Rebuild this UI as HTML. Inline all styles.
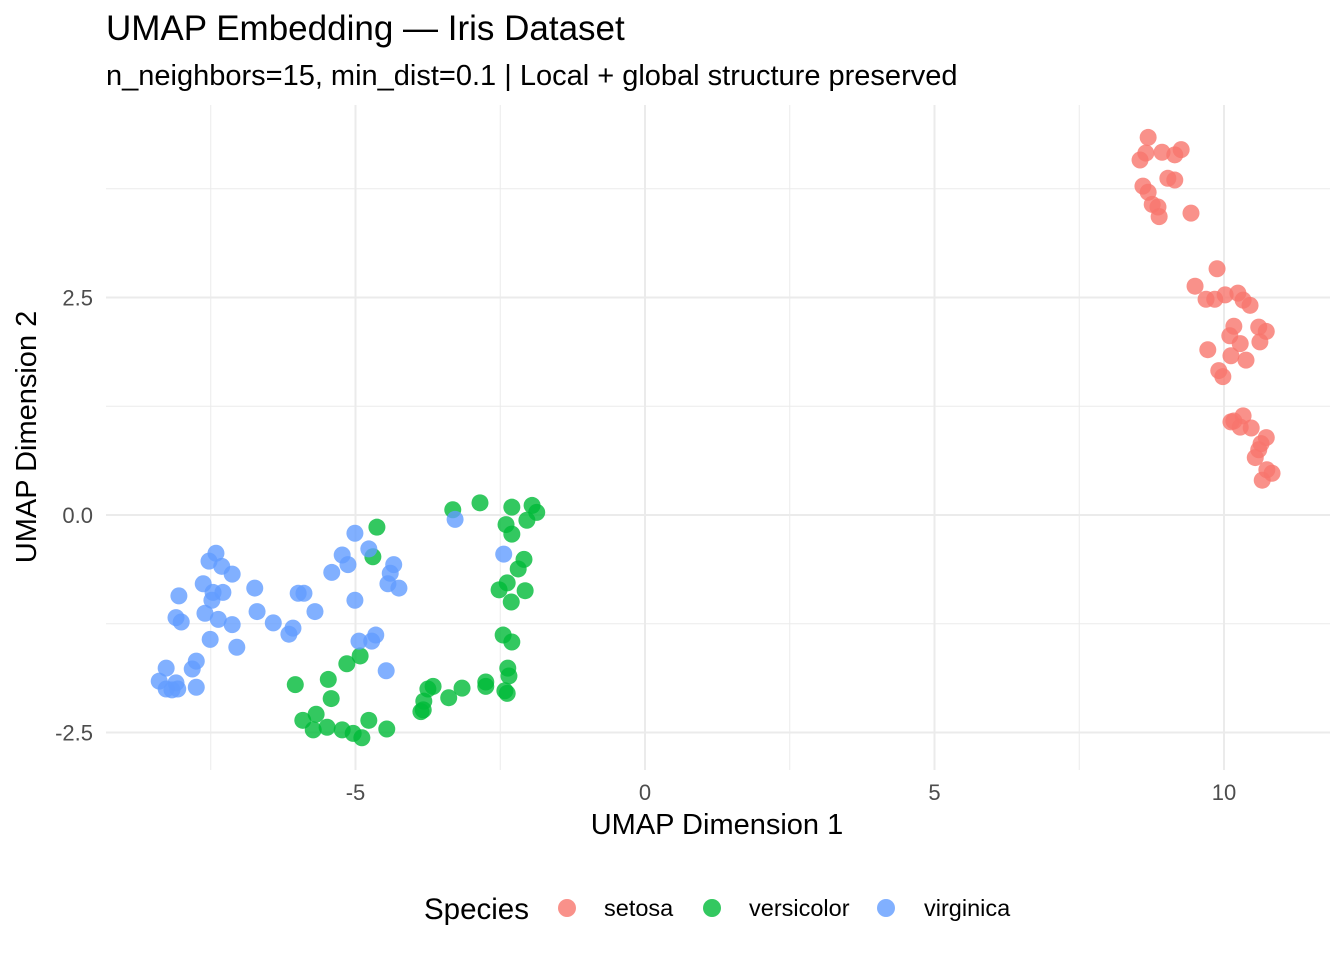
<!DOCTYPE html>
<html><head><meta charset="utf-8">
<style>
body{margin:0;background:#fff;}
svg{display:block;font-family:"Liberation Sans",Arial,sans-serif;}
</style></head>
<body>
<svg id="chart" width="1344" height="960" viewBox="0 0 1344 960" xmlns="http://www.w3.org/2000/svg">
<text x="106" y="40" font-size="35" fill="#000">UMAP Embedding — Iris Dataset</text>
<text x="106" y="85" font-size="29" fill="#000">n_neighbors=15, min_dist=0.1 | Local + global structure preserved</text>
<g id="grid"></g>
<g id="points"></g>
<g id="axes"></g>
<text x="717" y="834" font-size="29" text-anchor="middle" fill="#000">UMAP Dimension 1</text>
<text transform="translate(36,437) rotate(-90)" font-size="29" text-anchor="middle" fill="#000">UMAP Dimension 2</text>
<g>
<text x="424" y="919" font-size="29.5" fill="#000">Species</text>
<circle cx="567" cy="908" r="9" fill="#F8766D" fill-opacity="0.8"/>
<text x="604" y="916" font-size="23.5">setosa</text>
<circle cx="712" cy="908" r="9" fill="#00BA38" fill-opacity="0.8"/>
<text x="749" y="916" font-size="23.5">versicolor</text>
<circle cx="886" cy="908" r="9" fill="#619CFF" fill-opacity="0.8"/>
<text x="924" y="916" font-size="23.5">virginica</text>
</g>
</svg>
<script>
const setosaPx=[[1148,137],[1140,160],[1146,153],[1162,152],[1175,155],[1181,150],[1143,186],[1148,192],[1168,178],[1175,180],[1152,204],[1158,207],[1159,217],[1191,213],[1217,269],[1195,286],[1206,299],[1215,299],[1225,295],[1238,293],[1243,300],[1250,305],[1259,327],[1266,331],[1234,326],[1230,336],[1240,344],[1260,342],[1208,350],[1231,356],[1246,360],[1219,371],[1223,377],[1243,416],[1234,421],[1231,422],[1240,427],[1251,428],[1266,438],[1261,444],[1259,450],[1255,458],[1267,470],[1272,473],[1262,480]];
const versiPx=[[453,510],[480,503],[512,507],[532,505],[537,512],[527,520],[506,525],[512,534],[377,527],[373,557],[524,559],[518,569],[507,583],[499,590],[525,591],[511,602],[503,635],[512,642],[360,656],[347,664],[295,685],[328,679],[331,699],[508,668],[509,676],[486,682],[433,686],[462,688],[428,689],[486,686],[505,691],[507,693],[424,701],[423,710],[449,698],[421,712],[303,720],[316,714],[313,730],[327,727],[342,730],[353,733],[362,738],[369,720],[387,729]];
const virgPx=[[455,519],[355,533],[369,549],[342,555],[348,565],[332,572],[504,554],[394,565],[390,573],[388,584],[399,588],[216,553],[209,561],[222,566],[232,574],[203,584],[255,588],[213,592],[223,592],[179,596],[212,600],[298,593],[304,593],[355,600],[315,612],[257,612],[205,613],[218,619],[176,618],[181,622],[232,625],[273,623],[293,628],[289,634],[210,639],[237,647],[359,641],[376,635],[372,641],[386,671],[166,668],[192,669],[196,661],[159,681],[176,683],[178,689],[166,689],[172,690],[196,687]];
const toData=a=>a.map(p=>[Math.round((p[0]-645)/57.9*100)/100,Math.round((515-p[1])/87*100)/100]);
const setosaX=toData(setosaPx).map(d=>d[0]), setosaY=toData(setosaPx).map(d=>d[1]);
const versicolorX=toData(versiPx).map(d=>d[0]), versicolorY=toData(versiPx).map(d=>d[1]);
const virginicaX=toData(virgPx).map(d=>d[0]), virginicaY=toData(virgPx).map(d=>d[1]);
const xTicks=[-5,0,5,10], xTickLabels=["-5","0","5","10"];
const yTicks=[2.5,0,-2.5], yTickLabels=["2.5","0.0","-2.5"];
const xMinor=[-7.5,-2.5,2.5,7.5], yMinor=[3.75,1.25,-1.25];

const NS="http://www.w3.org/2000/svg";
const X=v=>645+v*57.9, Y=v=>515-v*87;
const L=106,R=1330,T=105,B=770;
function mk(tag,attrs,parent){const e=document.createElementNS(NS,tag);for(const k in attrs)e.setAttribute(k,attrs[k]);parent.appendChild(e);return e;}
const grid=document.getElementById('grid'),axes=document.getElementById('axes'),pts=document.getElementById('points');
xMinor.forEach(v=>{const l=mk('line',{x1:X(v),x2:X(v),y1:T,y2:B,stroke:'#ebebeb','stroke-width':1},grid);

});
yMinor.forEach(v=>{const l=mk('line',{x1:L,x2:R,y1:Y(v),y2:Y(v),stroke:'#ebebeb','stroke-width':1},grid);

});
xTicks.forEach((v,i)=>{const l=mk('line',{x1:X(v),x2:X(v),y1:T,y2:B,stroke:'#ebebeb','stroke-width':2},grid);


const t=mk('text',{x:X(v),y:800,'font-size':22,'text-anchor':'middle',fill:'#4d4d4d'},axes);t.textContent=xTickLabels[i];

});
yTicks.forEach((v,i)=>{const l=mk('line',{x1:L,x2:R,y1:Y(v),y2:Y(v),stroke:'#ebebeb','stroke-width':2},grid);


const t=mk('text',{x:93,y:Y(v)+8,'font-size':22,'text-anchor':'end',fill:'#4d4d4d'},axes);t.textContent=yTickLabels[i];

});
function series(xs,ys,col,name){xs.forEach((x,i)=>{const c=mk('circle',{cx:X(x),cy:Y(ys[i]),r:8.5,fill:col,'fill-opacity':0.8},pts);

});}
series(setosaX,setosaY,'#F8766D','setosa');
series(versicolorX,versicolorY,'#00BA38','versicolor');
series(virginicaX,virginicaY,'#619CFF','virginica');
</script>
</body></html>
